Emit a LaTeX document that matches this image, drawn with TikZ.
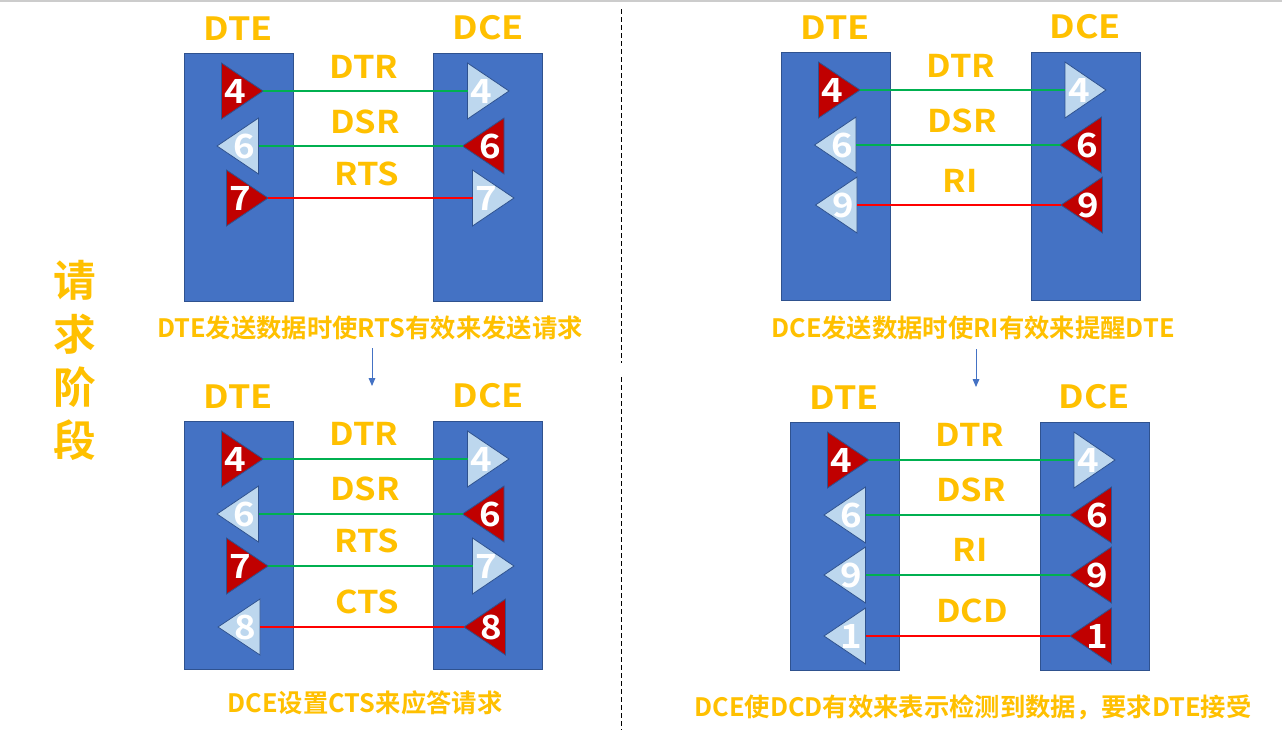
\documentclass[tikz,border=0pt]{standalone}
\usepackage{fontspec}
\setmainfont{Noto Sans CJK SC}[BoldFont={Noto Sans CJK SC Bold}]
\newfontfamily\widelatin{Noto Sans CJK SC Bold}[FakeStretch=1.1]
\newfontfamily\headlatin{Noto Sans CJK SC Bold}[FakeStretch=1.12]
\usetikzlibrary{arrows.meta}
\definecolor{boxblue}{HTML}{4472C4}
\definecolor{boxedge}{HTML}{2F528F}
\definecolor{lightblue}{HTML}{BDD7EE}
\definecolor{darkred}{HTML}{C00000}
\definecolor{gold}{HTML}{FFC000}
\definecolor{wiregreen}{HTML}{00B050}
\tikzset{
  panelbox/.style={draw=boxedge,fill=boxblue,line width=0.75pt},
  redtri/.style={draw=boxedge,fill=darkred,line width=0.6pt},
  lighttri/.style={draw=boxedge,fill=lightblue,line width=0.6pt},
  pinnum/.style={text=white,font=\widelatin\fontsize{25}{25}\selectfont,inner sep=0pt},
  headtxt/.style={text=gold,font=\headlatin\fontsize{24}{24}\selectfont,inner sep=0pt},
  sigtxt/.style={text=gold,font=\widelatin\fontsize{23.5}{23.5}\selectfont,inner sep=0pt},
  captxt/.style={text=gold,font=\bfseries\fontsize{19}{19}\selectfont,inner sep=0pt},
  sidetxt/.style={text=gold,font=\bfseries\fontsize{32}{32}\selectfont,inner sep=0pt},
  greenwire/.style={draw=wiregreen,line width=1.4pt},
  redwire/.style={draw=red,line width=1.4pt},
}
% name, base x, tip x, centre y, style, number
\newcommand{\tri}[6]{%
  \coordinate (#1b) at (#2,#4);
  \coordinate (#1t) at (#3,#4);
  \path[#5] (#2,#4-28) -- (#3,#4) -- (#2,#4+28) -- cycle;
  \node[pinnum] (#1) at ({#2+(#3-#2)*0.34},#4) {#6};
}
\newcommand{\panel}[3]{%
  \node[panelbox,minimum width=81.75pt,minimum height=186pt,inner sep=0pt,anchor=north west] (#1) at (#2,#3) {};
}
\begin{document}
\begin{tikzpicture}[x=0.75pt,y=-0.75pt]
\useasboundingbox (0,0) rectangle (1282,751);
\fill[white] (0,0) rectangle (1282,751);
\draw[draw=black!20,line width=1pt] (0,1) -- (1282,1);
% dividers
\coordinate (d1) at (621.5,9);
\coordinate (d2) at (621.5,363);
\coordinate (d3) at (621.5,377);
\coordinate (d4) at (621.5,730);
\draw[black,line width=0.75pt,dash pattern=on 4pt off 2pt] (d1) -- (d2);
\draw[black,line width=0.75pt,dash pattern=on 4pt off 2pt] (d3) -- (d4);
% side title
\node[sidetxt] (s1) at (75,280) {请};
\node[sidetxt] (s2) at (75,334) {求};
\node[sidetxt] (s3) at (75,387) {阶};
\node[sidetxt] (s4) at (75,440) {段};
% Panel A
\panel{a1}{184}{53}
\panel{a2}{433}{53}
\node[headtxt] (ah1) at (238,29) {DTE};
\node[headtxt] (ah2) at (488,28) {DCE};
\tri{a4}{221.5}{263}{91}{redtri}{4}
\tri{a6}{258.5}{217}{146}{lighttri}{6}
\tri{a7}{226.5}{268}{198}{redtri}{7}
\tri{b4}{467.5}{509}{91}{lighttri}{4}
\tri{b6}{504}{462.5}{146}{redtri}{6}
\tri{b7}{472.5}{514}{198}{lighttri}{7}
\draw[greenwire] (a4t) -- (b4b);
\draw[greenwire] (a6b) -- (b6t);
\draw[redwire] (a7t) -- (b7b);
\node[sigtxt] (al1) at (364,67) {DTR};
\node[sigtxt] (al2) at (365,122) {DSR};
\node[sigtxt] (al3) at (367,174) {RTS};
\node[captxt] (ac) at (370,328) {DTE发送数据时使RTS有效来发送请求};
% Panel B
\panel{c1}{184}{421}
\panel{c2}{433}{421}
\node[headtxt] (ch1) at (238,397) {DTE};
\node[headtxt] (ch2) at (488,396) {DCE};
\tri{c4}{221.5}{263}{459}{redtri}{4}
\tri{c6}{258.5}{217}{514}{lighttri}{6}
\tri{c7}{226.5}{268}{566}{redtri}{7}
\tri{c8}{260}{218}{627}{lighttri}{8}
\tri{e4}{467.5}{509}{459}{lighttri}{4}
\tri{e6}{504}{462.5}{514}{redtri}{6}
\tri{e7}{472.5}{514}{566}{lighttri}{7}
\tri{e8}{505.5}{464}{627}{redtri}{8}
\draw[greenwire] (c4t) -- (e4b);
\draw[greenwire] (c6b) -- (e6t);
\draw[greenwire] (c7t) -- (e7b);
\draw[redwire] (c8b) -- (e8t);
\node[sigtxt] (cl1) at (364,434) {DTR};
\node[sigtxt] (cl2) at (365,489) {DSR};
\node[sigtxt] (cl3) at (367,541) {RTS};
\node[sigtxt] (cl4) at (367,602) {CTS};
\node[captxt] (cc) at (365,703) {DCE设置CTS来应答请求};
\coordinate (af) at (372,348);
\coordinate (at) at (372,386);
\draw[boxblue,line width=0.75pt,-{Triangle[length=6pt,width=5pt]}] (af) -- (at);
% Panel C
\panel{f1}{781}{52}
\panel{f2}{1031}{52}
\node[headtxt] (fh1) at (835,28) {DTE};
\node[headtxt] (fh2) at (1085,27) {DCE};
\tri{f4}{818.5}{860}{90}{redtri}{4}
\tri{f6}{856}{814.5}{145}{lighttri}{6}
\tri{f9}{857}{815.5}{205}{lighttri}{9}
\tri{g4}{1065}{1106}{90}{lighttri}{4}
\tri{g6}{1101.5}{1060}{145}{redtri}{6}
\tri{g9}{1102.5}{1061}{205}{redtri}{9}
\draw[greenwire] (f4t) -- (g4b);
\draw[greenwire] (f6b) -- (g6t);
\draw[redwire] (f9b) -- (g9t);
\node[sigtxt] (fl1) at (961,66) {DTR};
\node[sigtxt] (fl2) at (962,121) {DSR};
\node[sigtxt] (fl3) at (960,181) {RI};
\node[captxt] (fc) at (973,328) {DCE发送数据时使RI有效来提醒DTE};
\coordinate (bf) at (976,349);
\coordinate (bt) at (976,387);
\draw[boxblue,line width=0.75pt,-{Triangle[length=6pt,width=5pt]}] (bf) -- (bt);
% Panel D
\panel{h1}{790}{422}
\panel{h2}{1040}{422}
\node[headtxt] (hh1) at (844,398) {DTE};
\node[headtxt] (hh2) at (1094,397) {DCE};
\tri{h4}{827.5}{869}{460}{redtri}{4}
\tri{h6}{865.5}{824}{515}{lighttri}{6}
\tri{h9}{865.5}{824}{575}{lighttri}{9}
\tri{h0}{865.5}{824}{636}{lighttri}{1}
\tri{k4}{1074}{1115}{460}{lighttri}{4}
\tri{k6}{1111.5}{1070}{515}{redtri}{6}
\tri{k9}{1111.5}{1070}{575}{redtri}{9}
\tri{k0}{1111.5}{1070}{636}{redtri}{1}
\draw[greenwire] (h4t) -- (k4b);
\draw[greenwire] (h6b) -- (k6t);
\draw[greenwire] (h9b) -- (k9t);
\draw[redwire] (h0b) -- (k0t);
\node[sigtxt] (hl1) at (970,435) {DTR};
\node[sigtxt] (hl2) at (971,490) {DSR};
\node[sigtxt] (hl3) at (970,550) {RI};
\node[sigtxt] (hl4) at (972,611) {DCD};
\node[captxt] (hc) at (973,707) {DCE使DCD有效来表示检测到数据，要求DTE接受};
\end{tikzpicture}
\end{document}
